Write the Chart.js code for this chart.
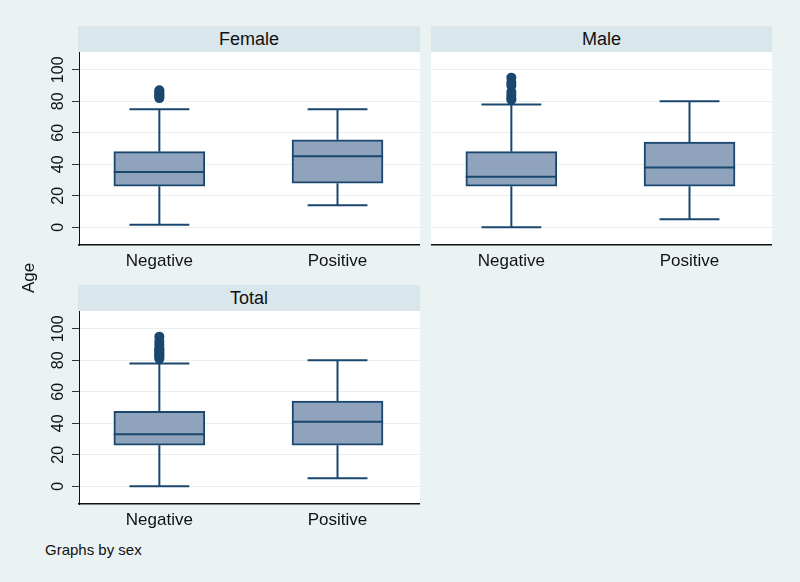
<!DOCTYPE html>
<html>
<head>
<meta charset="utf-8">
<script src="https://cdn.jsdelivr.net/npm/chart.js@4/dist/chart.umd.min.js"></script>
<style>
  body { margin: 0; background: #eaf2f3; font-family: "Liberation Sans", Arial, sans-serif; }
  #page { position: relative; width: 800px; height: 582px; background: #eaf2f3; overflow: hidden; }
  .strip { position: absolute; height: 26px; background: #d9e6eb; color: #111; font-size: 18px;
           line-height: 27px; text-align: center; }
  canvas { position: absolute; }
  .lbl { position: absolute; color: #111; font-size: 17px; }
</style>
</head>
<body>
<div id="page">
  <div class="strip" style="left:78px; top:26px; width:342px;">Female</div>
  <div class="strip" style="left:431px; top:26px; width:341px;">Male</div>
  <div class="strip" style="left:78px; top:285px; width:342px;">Total</div>
  <canvas id="female" width="390" height="228" style="left:30px; top:52px;"></canvas>
  <canvas id="male" width="341" height="228" style="left:431px; top:52px;"></canvas>
  <canvas id="total" width="390" height="228" style="left:30px; top:311px;"></canvas>
  <div class="lbl" style="left:9px; top:268px; width:40px; text-align:center; transform:rotate(-90deg);">Age</div>
  <div class="lbl" style="left:45px; top:541px; font-size:15px;">Graphs by sex</div>
</div>

<script>
// ---- data ----
const groups = ['Negative', 'Positive'];
const yTicks = [0, 20, 40, 60, 80, 100];

const femaleMin = [1.5, 14];
const femaleQ1  = [26, 28];
const femaleMed = [35, 45];
const femaleQ3  = [48, 55.5];
const femaleMax = [75, 75];
const femaleOut = [82, 83, 84, 85, 86, 87];

const maleMin = [0, 5];
const maleQ1  = [26, 26];
const maleMed = [32, 38];
const maleQ3  = [48, 54];
const maleMax = [78, 80];
const maleOut = [81, 82, 84, 86, 90, 92, 95];

const totalMin = [0, 5];
const totalQ1  = [26, 26];
const totalMed = [33, 41];
const totalQ3  = [47.5, 54];
const totalMax = [78, 80];
const totalOut = [81, 82, 83, 84, 85, 86, 87, 88, 90, 92, 95];

// ---- style ----
const LINE = '#1a476f';
const FILL = '#8fa3bd';
const HALF = 0.256;   // half box width in x units
const CAP  = 0.168;   // half whisker cap width

// white plot region (Stata style)
const plotBg = {
  id: 'plotBg',
  beforeDraw: function(chart) {
    const a = chart.chartArea;
    const ctx = chart.ctx;
    ctx.save();
    ctx.fillStyle = '#ffffff';
    ctx.fillRect(a.left, a.top, a.right - a.left, a.bottom - a.top);
    ctx.restore();
  }
};

function gap(x) { return { x: x, y: null }; }

function buildPanel(id, mn, q1, med, q3, mx, out, showY) {
  const boxes = [], whiskers = [], caps = [], medians = [];
  groups.forEach(function(g, i) {
    const x = i + 1;
    boxes.push({ x: x, y: [q1[i], q3[i]] });
    whiskers.push({ x: x, y: q3[i] }, { x: x, y: mx[i] }, gap(x),
                  { x: x, y: q1[i] }, { x: x, y: mn[i] }, gap(x));
    caps.push({ x: x - CAP, y: mx[i] }, { x: x + CAP, y: mx[i] }, gap(x),
              { x: x - CAP, y: mn[i] }, { x: x + CAP, y: mn[i] }, gap(x));
    medians.push({ x: x - HALF, y: med[i] }, { x: x + HALF, y: med[i] }, gap(x));
  });
  const outliers = out.map(function(v) { return { x: 1, y: v }; });

  const lineDs = function(data) {
    return { type: 'line', data: data, borderColor: LINE, borderWidth: 2,
             pointRadius: 0, spanGaps: false, fill: false, tension: 0 };
  };

  new Chart(document.getElementById(id), {
    type: 'bar',
    plugins: [plotBg],
    data: {
      datasets: [
        lineDs(medians),
        { type: 'scatter', data: outliers, pointRadius: 5, pointBackgroundColor: LINE,
          pointBorderWidth: 0, showLine: false },
        { type: 'bar', data: boxes, backgroundColor: FILL, borderColor: LINE, borderWidth: 2,
          borderSkipped: false, barThickness: 91, grouped: false },
        lineDs(whiskers),
        lineDs(caps)
      ]
    },
    options: {
      responsive: false,
      animation: false,
      layout: { padding: 0, autoPadding: false },
      plugins: { legend: { display: false }, tooltip: { enabled: false } },
      scales: {
        x: {
          type: 'linear', min: 0.549, max: 2.463, offset: false,
          afterBuildTicks: function(s) { s.ticks = groups.map(function(g, i) { return { value: i + 1 }; }); },
          afterFit: function(s) { s.height = 35; s.paddingLeft = 0; s.paddingRight = 0; },
          grid: { display: false, drawTicks: false },
          border: { display: true, color: '#111', width: 1.5 },
          ticks: { padding: 6, color: '#111', font: { size: 17, family: 'Liberation Sans' },
                   maxRotation: 0, callback: function(v) { return groups[v - 1]; } }
        },
        y: {
          min: -11.3, max: 111.3,
          afterBuildTicks: function(s) { s.ticks = yTicks.map(function(v) { return { value: v }; }); },
          afterFit: function(s) { s.width = showY ? 49 : 0; s.paddingTop = 0; s.paddingBottom = 0; },
          grid: { color: '#e7eff2', lineWidth: 1, drawTicks: showY, tickLength: 7, tickColor: '#333' },
          border: { display: showY, color: '#111', width: 1 },
          ticks: { display: showY, padding: 0, color: '#111', minRotation: 90, maxRotation: 90,
                   crossAlign: 'center', font: { size: 16, family: 'Liberation Sans' } }
        }
      }
    }
  });
}

buildPanel('female', femaleMin, femaleQ1, femaleMed, femaleQ3, femaleMax, femaleOut, true);
buildPanel('male', maleMin, maleQ1, maleMed, maleQ3, maleMax, maleOut, false);
buildPanel('total', totalMin, totalQ1, totalMed, totalQ3, totalMax, totalOut, true);
</script>
</body>
</html>
